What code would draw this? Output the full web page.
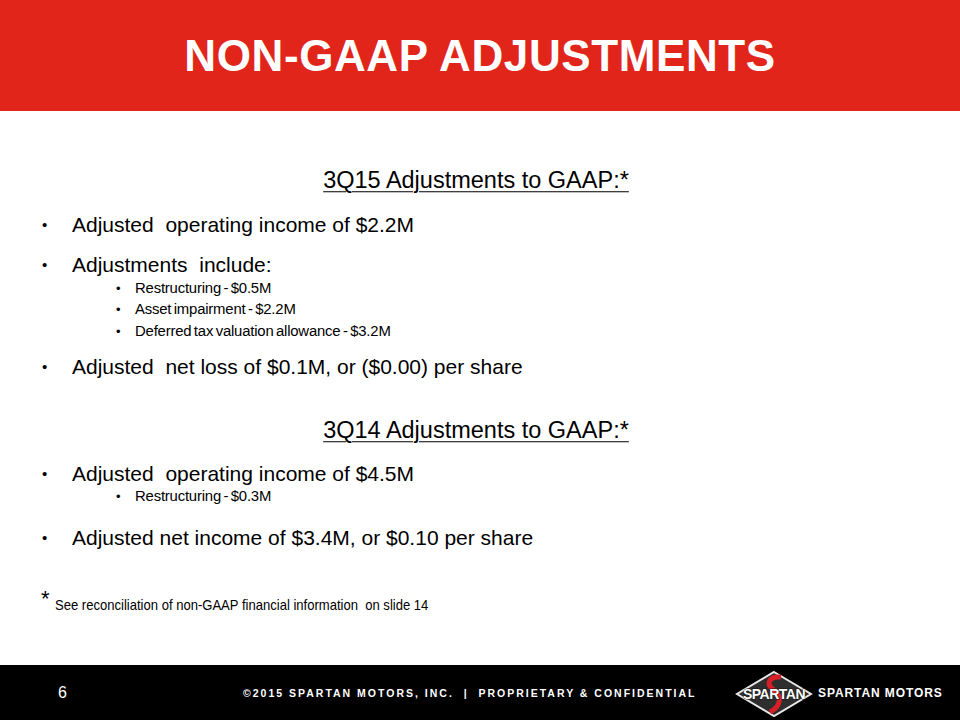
<!DOCTYPE html>
<html>
<head>
<meta charset="utf-8">
<script src="https://cdn.jsdelivr.net/npm/chart.js@4"></script>
<style>
  html, body { margin: 0; padding: 0; }
  body { width: 960px; height: 720px; position: relative; overflow: hidden; background: #fff;
         font-family: "Liberation Sans", Arial, sans-serif; color: #000; }
  #header { position: absolute; left: 0; top: 0; width: 960px; height: 111px; background: #e1251b; }
  #title { position: absolute; left: 0; width: 960px; top: 34px; text-align: center; color: #fff;
           font-weight: bold; font-size: 44px; line-height: 1; letter-spacing: 0.6px; }
  .t { position: absolute; white-space: pre; line-height: 1; transform: translateY(-50%); }
  .head { left: 0; width: 952px; text-align: center; font-size: 23.5px; text-decoration: underline;
          text-underline-offset: 3px; text-decoration-thickness: 1px; }
  .b1 { left: 72px; font-size: 21px; }
  .b2 { left: 135px; font-size: 15.5px; letter-spacing: -0.2px; word-spacing: -1.5px;
        transform: translateY(-50%) scaleX(0.96); transform-origin: left center; }
  .d1 { left: 42px; font-size: 15px; }
  .d2 { left: 116px; font-size: 13px; }
  #footer { position: absolute; left: 0; top: 665px; width: 960px; height: 55px; background: #000; }
  #foot { position: absolute; left: 243px; top: 687px; color: #fff; font-size: 10.5px; font-weight: bold;
          letter-spacing: 2px; white-space: nowrap; }
  #page { position: absolute; left: 58px; top: 684px; color: #fff; font-size: 16px; }
  #brand { position: absolute; left: 818px; top: 686px; color: #fff; font-size: 12px; font-weight: bold;
           letter-spacing: 0.9px; white-space: nowrap; }
</style>
</head>
<body>
<div id="header"></div>
<div id="title">NON-GAAP ADJUSTMENTS</div>
<div id="content"></div>
<div id="footer"></div>
<div id="page">6</div>
<div id="foot">©2015 SPARTAN MOTORS, INC. &nbsp;|&nbsp; PROPRIETARY &amp; CONFIDENTIAL</div>
<svg style="position:absolute;left:734px;top:670px" width="80" height="48" viewBox="0 0 80 48">
  <polygon points="40,2 77,24 40,46 3,24" fill="#2e2e2e" stroke="#e8e8e8" stroke-width="2"/>
  <path d="M47,7 C35,6 31,14 40,20 C49,27 46,37 36,42" fill="none" stroke="#d61f26" stroke-width="5"/>
  <text x="40" y="29" text-anchor="middle" fill="#fff" stroke="#111" stroke-width="0.8" paint-order="stroke"
        font-family="Liberation Sans, Arial" font-weight="bold" font-size="14" letter-spacing="-0.5">SPARTAN</text>
</svg>
<div id="brand">SPARTAN MOTORS</div>
<script>
// slide text, one entry per line, with the vertical centre of each line
const headings = ['3Q15 Adjustments to GAAP:*', '3Q14 Adjustments to GAAP:*']
const headingY = [181, 431]
const bullets = [
  'Adjusted  operating income of $2.2M',
  'Adjustments  include:',
  'Adjusted  net loss of $0.1M, or ($0.00) per share',
  'Adjusted  operating income of $4.5M',
  'Adjusted net income of $3.4M, or $0.10 per share'
]
const bulletY = [224, 264, 366, 473, 537]
const subBullets = [
  'Restructuring - $0.5M',
  'Asset impairment - $2.2M',
  'Deferred tax valuation allowance - $3.2M',
  'Restructuring - $0.3M'
]
const subBulletY = [288, 309, 331, 496]
const footnote = 'See reconciliation of non-GAAP financial information  on slide 14'

const box = document.getElementById('content')
function add(cls, text, y) {
  const el = document.createElement('div')
  el.className = 't ' + cls
  el.textContent = text
  el.style.top = y + 'px'
  box.appendChild(el)
  return el
}
headings.forEach((h, i) => add('head', h, headingY[i]))
bullets.forEach((b, i) => { add('d1', '•', bulletY[i]); add('b1', b, bulletY[i]) })
subBullets.forEach((b, i) => { add('d2', '•', subBulletY[i]); add('b2', b, subBulletY[i]) })

add('', '*', 599).style.cssText += 'left:41px;font-size:22px'
const fn = add('', footnote, 605)
fn.style.cssText += 'left:55px;font-size:14.5px;transform:translateY(-50%) scaleX(0.9);transform-origin:left center'
</script>
</body>
</html>
